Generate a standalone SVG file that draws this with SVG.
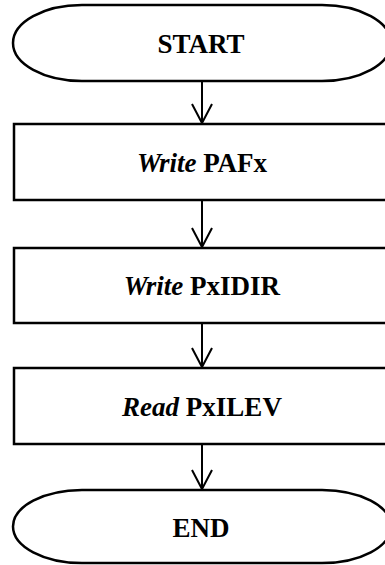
<svg xmlns="http://www.w3.org/2000/svg" width="385" height="565" viewBox="0 0 385 565">
  <style>
    .shape { fill: #ffffff; stroke: #000000; stroke-width: 2.5; }
    .link { fill: none; stroke: #000000; stroke-width: 2; }
    .label { font-family: "Liberation Serif", "Times New Roman", serif; font-size: 27px; text-anchor: middle; fill: #000000; }
    .b { font-weight: bold; }
    .i { font-style: italic; font-weight: bold; }
  </style>
  <defs>
    <!-- open V arrowhead, drawn pointing along +x so orient="auto" turns it down the line -->
    <marker id="vhead" markerWidth="24" markerHeight="24" refX="20" refY="11" orient="auto" markerUnits="userSpaceOnUse" viewBox="0 0 24 24">
      <path d="M1,1 L20,11 L1,21" fill="none" stroke="#000000" stroke-width="2"/>
    </marker>
  </defs>

  <rect width="385" height="565" fill="#ffffff"/>

  <g id="connectors">
    <line class="link" x1="202" y1="82" x2="202" y2="123" marker-end="url(#vhead)"/>
    <line class="link" x1="202" y1="201" x2="202" y2="247" marker-end="url(#vhead)"/>
    <line class="link" x1="202" y1="324" x2="202" y2="367" marker-end="url(#vhead)"/>
    <line class="link" x1="202" y1="445" x2="202" y2="489" marker-end="url(#vhead)"/>
  </g>

  <g id="start">
    <path class="shape" d="M82,5 L322,5 A69,38 0 0 1 322,81 L82,81 A69,38 0 0 1 82,5 Z"/>
    <text class="label b" x="201" y="53">START</text>
  </g>

  <g id="write-pafx">
    <rect class="shape" x="14" y="124" width="378" height="76"/>
    <text class="label" x="202" y="172"><tspan class="i">Write</tspan> <tspan class="b">PAFx</tspan></text>
  </g>

  <g id="write-pxidir">
    <rect class="shape" x="14" y="248" width="378" height="75"/>
    <text class="label" x="202" y="295"><tspan class="i">Write</tspan> <tspan class="b">PxIDIR</tspan></text>
  </g>

  <g id="read-pxilev">
    <rect class="shape" x="14" y="368" width="378" height="76"/>
    <text class="label" x="202" y="416"><tspan class="i">Read</tspan> <tspan class="b">PxILEV</tspan></text>
  </g>

  <g id="end">
    <path class="shape" d="M82,490 L322,490 A69,36.5 0 0 1 322,563 L82,563 A69,36.5 0 0 1 82,490 Z"/>
    <text class="label b" x="201" y="537">END</text>
  </g>
</svg>
